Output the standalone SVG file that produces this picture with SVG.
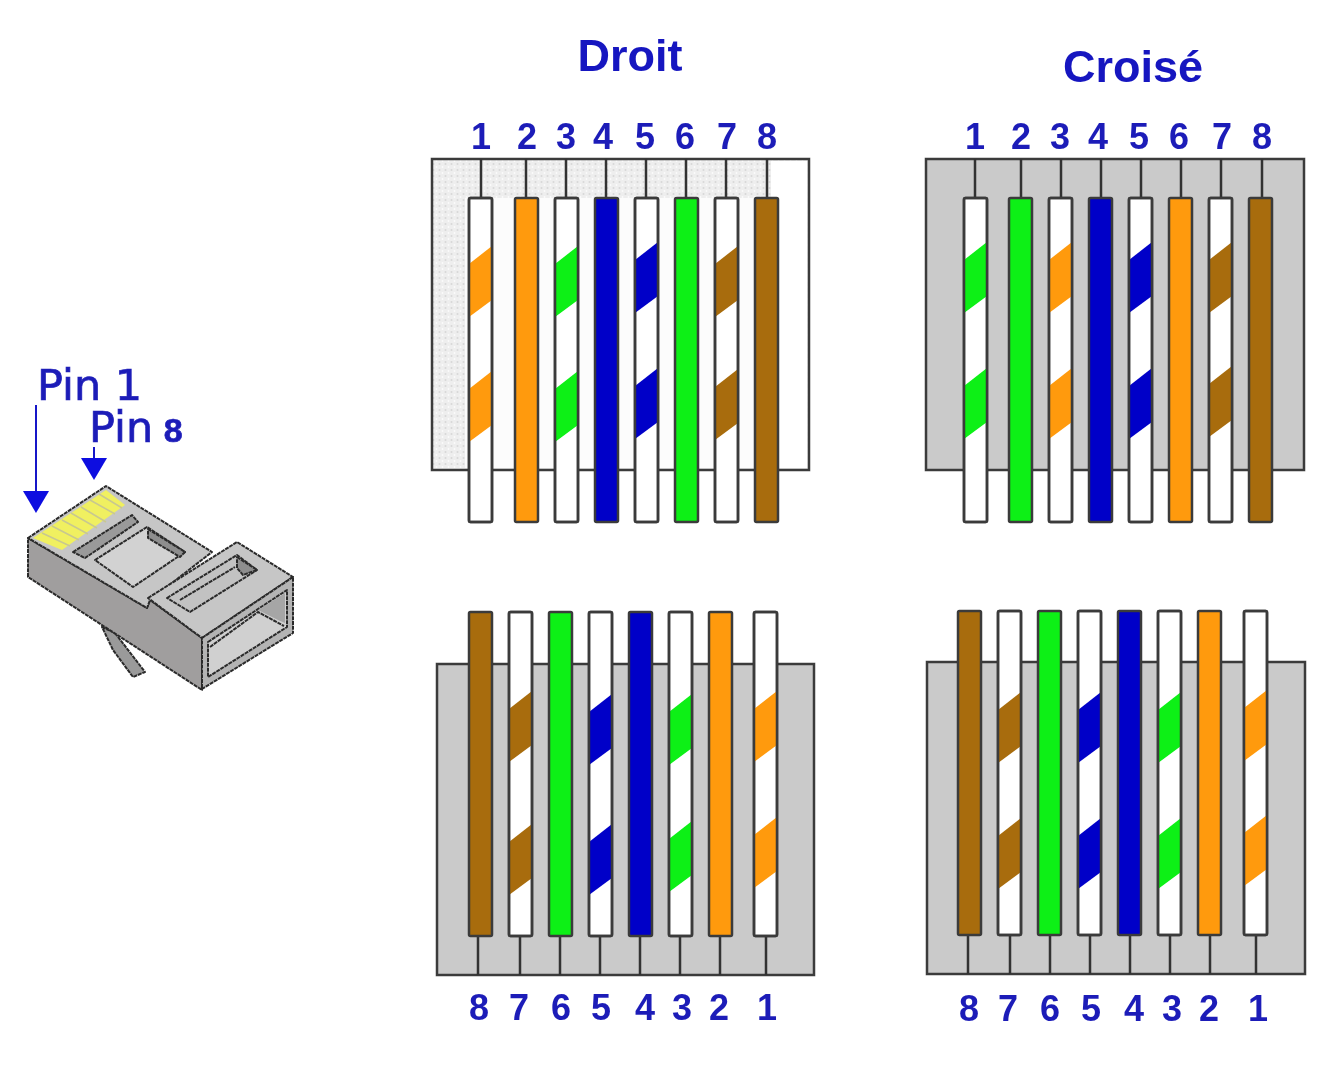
<svg xmlns="http://www.w3.org/2000/svg" width="1334" height="1080" viewBox="0 0 1334 1080">
<style>
g[id]{filter:url(#soft)}
.r{stroke:#3a3a3a;stroke-width:2.5}
.w{fill:#fff}.o{fill:#ff9a0a}.g{fill:#08f014}.b{fill:#0404c8}.n{fill:#a86c0c}
.panel{stroke:#3a3a3a;stroke-width:2.5;fill:#cacaca}
.stub{stroke:#333;stroke-width:2.5;fill:none}
.num{font-family:"Liberation Sans",Arial,sans-serif;font-weight:700;font-size:36px;fill:#1c1cb8;text-anchor:middle}
.title{font-family:"Liberation Sans",Arial,sans-serif;font-weight:700;font-size:45px;fill:#1414c0;text-anchor:middle}
.pin{font-family:"DejaVu Sans",sans-serif;font-size:43px;fill:#1c1cb8;stroke:#1c1cb8;stroke-width:.7}
.pinb{font-family:"Liberation Sans",Arial,sans-serif;font-weight:700;font-size:34px}
.arr{stroke:#1414c8;stroke-width:2;fill:none}
.pl{stroke:#2c2c2c;stroke-width:2;stroke-linejoin:round;stroke-dasharray:4 .8}
</style>
<defs>
<filter id="soft" filterUnits="userSpaceOnUse" x="0" y="0" width="1334" height="1080"><feGaussianBlur stdDeviation="0.55"/></filter>
<pattern id="speck" width="6" height="6" patternUnits="userSpaceOnUse"><rect width="6" height="6" fill="#eeeeee"/><circle cx="1.5" cy="2" r="1" fill="#d8d8d8"/><circle cx="4.5" cy="5" r="1" fill="#fbfbfb"/></pattern>
<rect id="r" class="r" width="23" height="324" rx="1.5"/>
<rect id="l" class="r" width="23" height="324" rx="1.5" fill="none"/>
<polygon id="s" points="0,66 23,48 23,102 0,119"/>
<marker id="ah" markerUnits="userSpaceOnUse" markerWidth="24" markerHeight="28" refX="0" refY="13" orient="auto"><path d="M0,0 L22,13 L0,26 Z" fill="#0a0ae0"/></marker>
</defs>
<rect width="1334" height="1080" fill="#fff"/>

<g id="plug">
<polygon class="pl" points="102,627 115,633 145,672 133,677 113,650" fill="#9a9a9a"/>
<polygon class="pl" points="28,538 147,608 150,600 202,638 202,690 28,577" fill="#a09e9e"/>
<polygon class="pl" points="28,538 106,486 212,552 150,600 147,608" fill="#c6c6c6"/>
<polygon points="33,538 106,490 125,505 62,550" fill="#f0f060"/>
<path d="M42,533 L70,546 M52,526 L79,540 M62,520 L88,534 M71,513 L97,528 M81,507 L106,522 M90,500 L115,514 M99,494 L122,508" stroke="#c8c890" stroke-width="1.5" fill="none"/>
<polygon class="pl" points="73,552 132,515 138,522 85,558" fill="#9a9a9a"/>
<polygon class="pl" points="95,560 147,527 185,552 133,587" fill="#d2d2d2"/>
<polygon class="pl" points="148,529 185,552 180,557 148,538" fill="#8e8e8e"/>
<polygon class="pl" points="148,598 237,542 293,577 202,638" fill="#c6c6c6"/>
<polygon class="pl" points="167,598 237,555 257,570 190,612" fill="#c2c2c2"/>
<polygon class="pl" points="237,557 257,570 243,575 237,568" fill="#8e8e8e"/>
<path class="pl" d="M180,600 L235,567" fill="none"/>
<polygon class="pl" points="202,638 293,577 293,633 202,689" fill="#b4b4b4"/>
<polygon class="pl" points="208,642 287,590 287,627 208,677" fill="#d0d0d0"/>
<polygon points="258,610 285,593 285,623 278,620" fill="#a6a6a6"/>
<path class="pl" d="M210,647 L258,612 L284,626" fill="none"/>
</g>

<g id="panel-droit-haut">
<rect class="panel" x="432" y="159" width="377" height="311" style="fill:url(#speck)"/>
<rect x="771" y="161" width="36" height="307" fill="#fff"/>
<rect x="465" y="198" width="306" height="270" fill="#fcfcfc"/>
<path class="stub" d="M481,159V198M526,159V198M566,159V198M606,159V198M646,159V198M686,159V198M726,159V198M767,159V198"/>
<g transform="translate(469,198)"><use href="#r" class="w"/><use href="#s" class="o"/><use href="#s" y="125" class="o"/><use href="#l"/></g>
<use href="#r" x="515" y="198" class="o"/>
<g transform="translate(555,198)"><use href="#r" class="w"/><use href="#s" class="g"/><use href="#s" y="125" class="g"/><use href="#l"/></g>
<use href="#r" x="595" y="198" class="b"/>
<g transform="translate(635,198)"><use href="#r" class="w"/><use href="#s" y="-4" class="b"/><use href="#s" y="122" class="b"/><use href="#l"/></g>
<use href="#r" x="675" y="198" class="g"/>
<g transform="translate(715,198)"><use href="#r" class="w"/><use href="#s" class="n"/><use href="#s" y="123" class="n"/><use href="#l"/></g>
<use href="#r" x="755" y="198" class="n"/>
<text class="num" x="481" y="149">1</text><text class="num" x="527" y="149">2</text><text class="num" x="566" y="149">3</text><text class="num" x="603" y="149">4</text><text class="num" x="645" y="149">5</text><text class="num" x="685" y="149">6</text><text class="num" x="727" y="149">7</text><text class="num" x="767" y="149">8</text>
<text class="title" x="630" y="71">Droit</text>
</g>

<g id="panel-croise-haut">
<rect class="panel" x="926" y="159" width="378" height="311"/>
<path class="stub" d="M975,159V198M1021,159V198M1061,159V198M1101,159V198M1141,159V198M1181,159V198M1221,159V198M1262,159V198"/>
<g transform="translate(964,198)"><use href="#r" class="w"/><use href="#s" y="-4" class="g"/><use href="#s" y="122" class="g"/><use href="#l"/></g>
<use href="#r" x="1009" y="198" class="g"/>
<g transform="translate(1049,198)"><use href="#r" class="w"/><use href="#s" y="-4" class="o"/><use href="#s" y="122" class="o"/><use href="#l"/></g>
<use href="#r" x="1089" y="198" class="b"/>
<g transform="translate(1129,198)"><use href="#r" class="w"/><use href="#s" y="-4" class="b"/><use href="#s" y="122" class="b"/><use href="#l"/></g>
<use href="#r" x="1169" y="198" class="o"/>
<g transform="translate(1209,198)"><use href="#r" class="w"/><use href="#s" y="-4" class="n"/><use href="#s" y="120" class="n"/><use href="#l"/></g>
<use href="#r" x="1249" y="198" class="n"/>
<text class="num" x="975" y="149">1</text><text class="num" x="1021" y="149">2</text><text class="num" x="1060" y="149">3</text><text class="num" x="1098" y="149">4</text><text class="num" x="1139" y="149">5</text><text class="num" x="1179" y="149">6</text><text class="num" x="1222" y="149">7</text><text class="num" x="1262" y="149">8</text>
<text class="title" x="1133" y="82">Croisé</text>
</g>

<g id="panel-droit-bas">
<rect class="panel" x="437" y="664" width="377" height="311"/>
<path class="stub" d="M478,936V975M520,936V975M560,936V975M600,936V975M640,936V975M680,936V975M720,936V975M766,936V975"/>
<use href="#r" x="469" y="612" class="n"/>
<g transform="translate(509,612)"><use href="#r" class="w"/><use href="#s" y="31" class="n"/><use href="#s" y="164" class="n"/><use href="#l"/></g>
<use href="#r" x="549" y="612" class="g"/>
<g transform="translate(589,612)"><use href="#r" class="w"/><use href="#s" y="34" class="b"/><use href="#s" y="164" class="b"/><use href="#l"/></g>
<use href="#r" x="629" y="612" class="b"/>
<g transform="translate(669,612)"><use href="#r" class="w"/><use href="#s" y="34" class="g"/><use href="#s" y="161" class="g"/><use href="#l"/></g>
<use href="#r" x="709" y="612" class="o"/>
<g transform="translate(754,612)"><use href="#r" class="w"/><use href="#s" y="31" class="o"/><use href="#s" y="157" class="o"/><use href="#l"/></g>
<text class="num" x="479" y="1020">8</text><text class="num" x="519" y="1020">7</text><text class="num" x="561" y="1020">6</text><text class="num" x="601" y="1020">5</text><text class="num" x="645" y="1020">4</text><text class="num" x="682" y="1020">3</text><text class="num" x="719" y="1020">2</text><text class="num" x="767" y="1020">1</text>
</g>

<g id="panel-croise-bas">
<rect class="panel" x="927" y="662" width="378" height="312"/>
<path class="stub" d="M968,934V974M1010,934V974M1050,934V974M1090,934V974M1130,934V974M1170,934V974M1210,934V974M1256,934V974"/>
<use href="#r" x="958" y="611" class="n"/>
<g transform="translate(998,611)"><use href="#r" class="w"/><use href="#s" y="33" class="n"/><use href="#s" y="159" class="n"/><use href="#l"/></g>
<use href="#r" x="1038" y="611" class="g"/>
<g transform="translate(1078,611)"><use href="#r" class="w"/><use href="#s" y="33" class="b"/><use href="#s" y="159" class="b"/><use href="#l"/></g>
<use href="#r" x="1118" y="611" class="b"/>
<g transform="translate(1158,611)"><use href="#r" class="w"/><use href="#s" y="33" class="g"/><use href="#s" y="159" class="g"/><use href="#l"/></g>
<use href="#r" x="1198" y="611" class="o"/>
<g transform="translate(1244,611)"><use href="#r" class="w"/><use href="#s" y="31" class="o"/><use href="#s" y="156" class="o"/><use href="#l"/></g>
<text class="num" x="969" y="1021">8</text><text class="num" x="1008" y="1021">7</text><text class="num" x="1050" y="1021">6</text><text class="num" x="1091" y="1021">5</text><text class="num" x="1134" y="1021">4</text><text class="num" x="1172" y="1021">3</text><text class="num" x="1209" y="1021">2</text><text class="num" x="1258" y="1021">1</text>
</g>

<g id="labels">
<text class="pin" x="37" y="400">Pin 1</text>
<text class="pin" x="89" y="442">Pin <tspan class="pinb" dx="-3">8</tspan></text>
</g>

<g id="connectors">
<path class="arr" d="M36,405V491" marker-end="url(#ah)"/>
<path class="arr" d="M94,447V458" marker-end="url(#ah)"/>
</g>
</svg>
